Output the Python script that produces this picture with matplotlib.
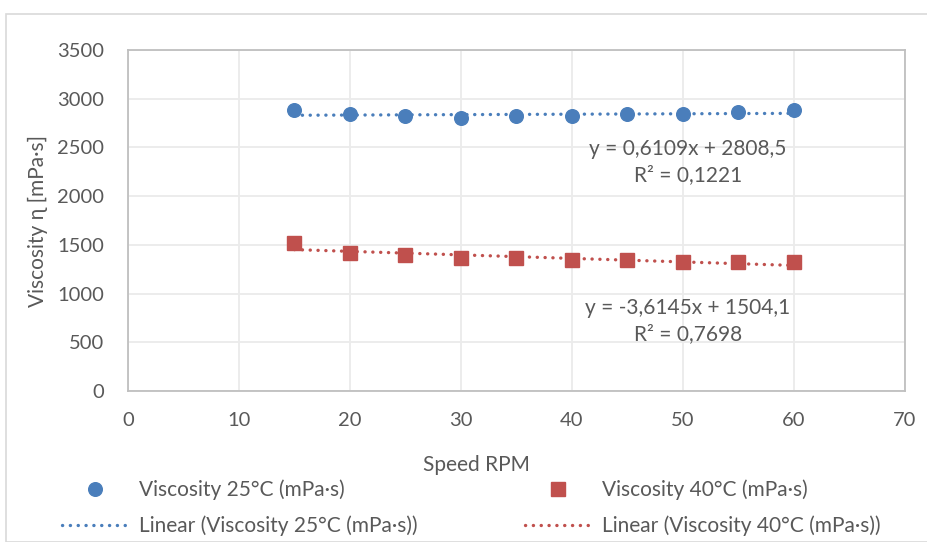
import matplotlib.pyplot as plt
import matplotlib.patches as mpatches
from matplotlib.lines import Line2D
import numpy as np

plt.rcParams['font.family'] = ['Lato', 'DejaVu Sans']

speed = [15, 20, 25, 30, 35, 40, 45, 50, 55, 60]
visc_25 = [2880, 2840, 2820, 2800, 2820, 2820, 2840, 2840, 2860, 2880]
visc_40 = [1520, 1420, 1400, 1360, 1360, 1340, 1340, 1320, 1320, 1320]

eq_25 = "y = 0,6109x + 2808,5\nR² = 0,1221"
eq_40 = "y = -3,6145x + 1504,1\nR² = 0,7698"

label_25 = "Viscosity 25°C (mPa·s)"
label_40 = "Viscosity 40°C (mPa·s)"

blue = "#4A7EBB"
red = "#C0504D"
txt = "#595959"
dots = (0, (0.05, 2.3))

W, H = 928, 542
fig = plt.figure(figsize=(W / 100, H / 100), dpi=100)

# chart area border (Excel frame)
fig.patches.append(mpatches.Rectangle((6 / W, 0), 1, 1 - 14 / H, transform=fig.transFigure,
                                      fill=False, edgecolor="#D9D9D9", linewidth=1.2))

ax = fig.add_axes([128 / W, 1 - 391 / H, (905 - 128) / W, (391 - 50) / H])

ax.plot(speed, visc_25, 'o', color=blue, markersize=9.8, zorder=4)
ax.plot(speed, visc_40, 's', color=red, markersize=9.5, zorder=4)

xs = np.array([min(speed), max(speed)])
for ys, col in [(visc_25, blue), (visc_40, red)]:
    k, b = np.polyfit(speed, ys, 1)
    ax.plot(xs, k * xs + b, linestyle=dots, color=col, linewidth=2.4, zorder=3,
            dash_capstyle='round')

ax.text(50.45, 2350, eq_25, ha='center', va='center', fontsize=15, color=txt, linespacing=1.35)
ax.text(50.45, 718, eq_40, ha='center', va='center', fontsize=15, color=txt, linespacing=1.35)

ax.set_xlim(0, 70)
ax.set_ylim(0, 3500)
ax.set_xticks(range(0, 71, 10))
ax.set_yticks(range(0, 3501, 500))
ax.tick_params(length=0, labelsize=14.5, labelcolor=txt)
ax.tick_params(axis='x', pad=15)
ax.tick_params(axis='y', pad=17)
ax.grid(True, color="#EBEBEB", linewidth=1.3)
ax.set_axisbelow(True)
for s in ax.spines.values():
    s.set_color("#BFBFBF")
    s.set_linewidth(1.3)

fig.text(476 / W, 1 - 465 / H, "Speed RPM", ha='center', va='center', fontsize=15, color=txt)
fig.text(38 / W, 1 - 221 / H, "Viscosity ɳ [mPa·s]", rotation=90, ha='center', va='center',
         fontsize=15, color=txt)

col1 = [Line2D([], [], marker='o', linestyle='none', color=blue, markersize=9.8),
        Line2D([], [], linestyle=dots, color=blue, linewidth=2.4, dash_capstyle='round')]
col2 = [Line2D([], [], marker='s', linestyle='none', color=red, markersize=9.5),
        Line2D([], [], linestyle=dots, color=red, linewidth=2.4, dash_capstyle='round')]
for handles, labels, x0 in [(col1, [label_25, "Linear (" + label_25 + ")"], 62),
                            (col2, [label_40, "Linear (" + label_40 + ")"], 525)]:
    leg = fig.legend(handles, labels, loc='center left', bbox_to_anchor=(x0 / W, 1 - 508 / H),
                     frameon=False, fontsize=15, handlelength=3.2, handletextpad=0.5,
                     labelspacing=0.75, borderpad=0, borderaxespad=0)
    for t in leg.get_texts():
        t.set_color(txt)

fig.savefig("out.png", dpi=100)
